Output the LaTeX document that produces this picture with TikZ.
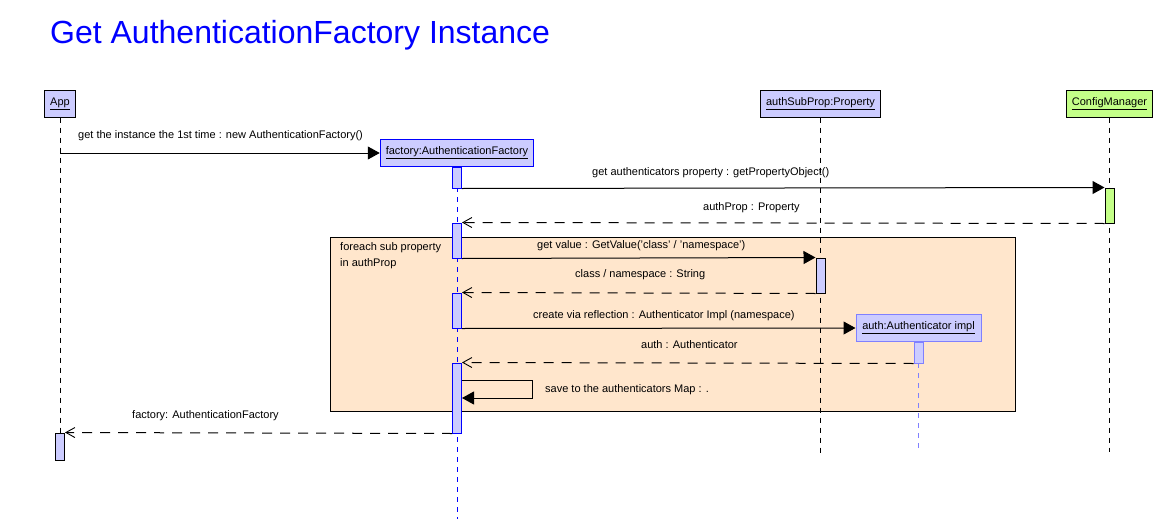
\documentclass[tikz,border=0pt]{standalone}
\usepackage{fontspec}
\setmainfont{Liberation Sans}
\usetikzlibrary{arrows.meta,calc}
\definecolor{lav}{RGB}{204,204,255}
\definecolor{lblue}{RGB}{128,128,255}
\definecolor{cmgreen}{RGB}{196,255,136}
\definecolor{peach}{RGB}{255,230,204}
\definecolor{tblue}{RGB}{0,0,255}
\begin{document}
\begin{tikzpicture}[x=1pt,y=-1pt,
  every node/.style={font=\fontsize{11}{13}\selectfont},
  obj/.style={draw, line width=1pt, fill=lav, inner sep=0pt, minimum height=27pt},
  act/.style={draw, line width=1pt, fill=lav, inner sep=0pt, minimum width=9pt},
  life/.style={line width=1pt, dash pattern=on 5pt off 5pt},
  msg/.style={line width=1pt, -{Triangle[length=12pt,width=13pt]}},
  ret/.style={line width=1pt, dash pattern=on 10pt off 8pt, -{Straight Barb[length=9pt,width=10pt,line width=0.9pt]}},
  lbl/.style={anchor=base west, inner sep=0pt}
]
\useasboundingbox (0,0) rectangle (1170,530);

% title
\node[anchor=base west, inner sep=0pt, text=tblue, font=\fontsize{32}{38}\selectfont] (title) at (50,43.3) {Get AuthenticationFactory Instance};

% loop frame
\node[draw, line width=1pt, fill=peach, anchor=north west, inner sep=0pt, minimum width=685pt, minimum height=174pt] (loop) at (330,237) {};
\node[lbl] (looplbl1) at (340,250) {foreach sub property};
\node[lbl] (looplbl2) at (340,266) {in authProp};

% objects
\node[obj, minimum width=31pt] (app) at (60,103.5) {\underline{App}};
\node[obj, draw=tblue, minimum width=153.5pt] (factory) at (457,153) {\underline{factory:AuthenticationFactory}};
\node[obj, minimum width=120.5pt] (sub) at (820.5,103.5) {\underline{authSubProp:Property}};
\node[obj, fill=cmgreen, minimum width=86.5pt] (cm) at (1109.5,103.5) {\underline{ConfigManager}};
\node[obj, draw=lblue, minimum width=125pt] (auth) at (918.5,328) {\underline{auth:Authenticator impl}};

% lifeline ends
\coordinate (append) at (60,433);
\coordinate (fend) at (457,519);
\coordinate (send) at (820.5,453);
\coordinate (cend) at (1109.5,452);
\coordinate (aend) at (918.5,448);
\coordinate (astart) at (918.5,363);

% lifelines
\draw[life] (app.south) -- (append);
\draw[life, draw=tblue] (factory.south) -- (fend);
\draw[life] (sub.south) -- (send);
\draw[life] (cm.south) -- (cend);
\draw[life, draw=lblue] (astart) -- (aend);

% activations
\node[act, draw=tblue, minimum height=21pt] (f1) at (457,177.5) {};
\node[act, draw=tblue, minimum height=35pt] (f2) at (457,240.5) {};
\node[act, draw=tblue, minimum height=35pt] (f3) at (457,310.5) {};
\node[act, draw=tblue, minimum height=70pt] (f4) at (457,398) {};
\node[act, minimum height=35pt] (s1) at (820.5,275.5) {};
\node[act, fill=cmgreen, minimum height=35pt] (cm1) at (1109.5,205.5) {};
\node[act, draw=lblue, minimum height=21pt] (a1) at (918.5,352.5) {};
\node[act, minimum height=27pt] (app1) at (60,446.5) {};

% messages
\draw[msg] (app |- factory) -- (factory.west);
\node[lbl] (m1) at (78,138.5) {get the instance the 1st time : new AuthenticationFactory()};

\draw[msg] (f1.south east) -- (cm1.north west);
\node[lbl] (m2) at (592,175.5) {get authenticators property : getPropertyObject()};

\draw[ret] (cm1.south west) -- (f2.north east);
\node[lbl] (m3) at (703,210) {authProp : Property};

\draw[msg] (f2.south east) -- (s1.north west);
\node[lbl] (m4) at (537,248.5) {get value : GetValue('class' / 'namespace')};

\draw[ret] (s1.south west) -- (f3.north east);
\node[lbl] (m5) at (575,277.5) {class / namespace : String};

\draw[msg] (f3.south east) -- (auth.west);
\node[lbl] (m6) at (533,318) {create via reflection : Authenticator Impl (namespace)};

\draw[ret] (a1.south west) -- (f4.north east);
\node[lbl] (m7) at (641,348.5) {auth : Authenticator};

\coordinate (sm1) at (f4.east |- 0,380);
\coordinate (sm2) at (532,380);
\coordinate (sm3) at (532,398);
\coordinate (sm4) at (f4.east |- 0,398);
\draw[msg] (sm1) -- (sm2) -- (sm3) -- (sm4);
\node[lbl] (m8) at (545,392.5) {save to the authenticators Map : .};

\draw[ret] (f4.south west) -- (app1.north east);
\node[lbl] (m9) at (132,418.5) {factory: AuthenticationFactory};
\end{tikzpicture}
\end{document}
